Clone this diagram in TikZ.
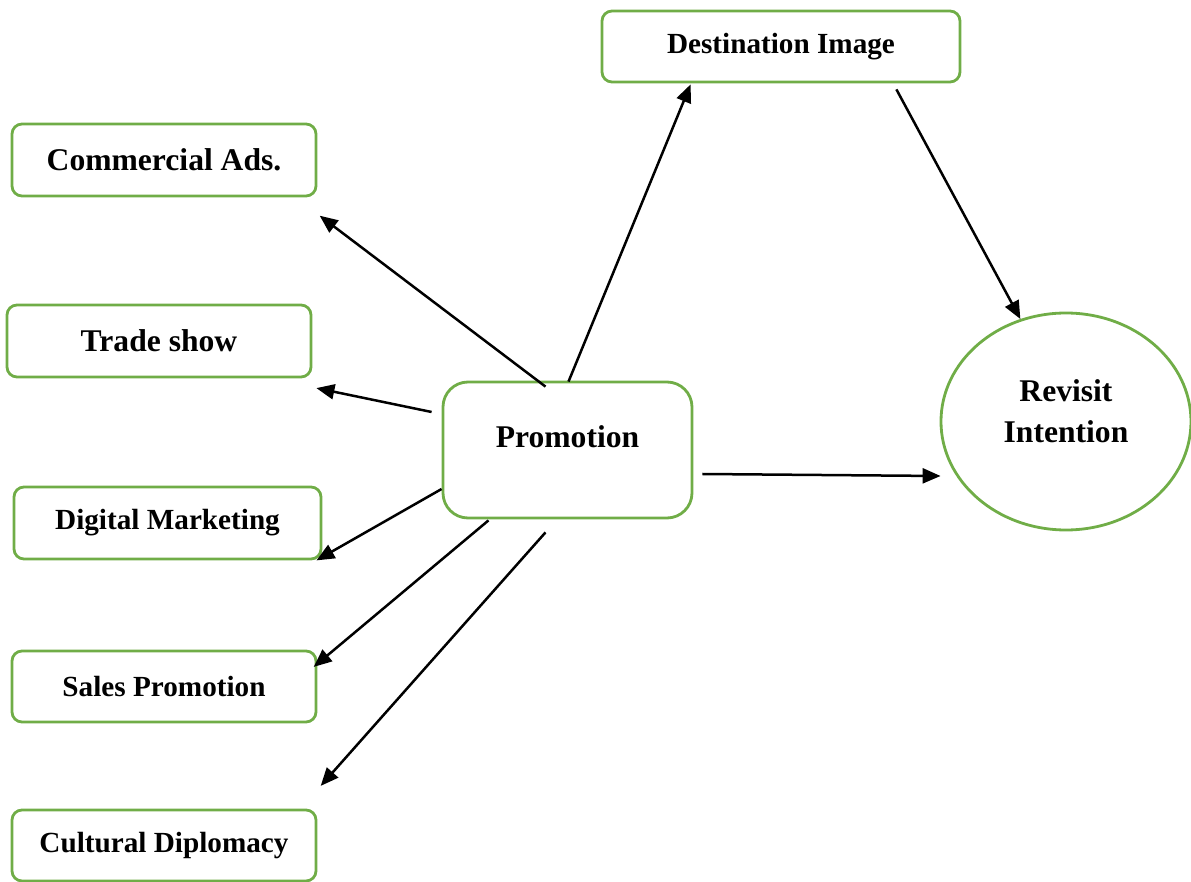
\documentclass[tikz,border=0pt]{standalone}
\usepackage{fontspec}
\setmainfont{Liberation Serif}
\usetikzlibrary{calc,arrows.meta,shapes.geometric}
\definecolor{boxgreen}{RGB}{112,173,71}
\newcommand\fontbig{\fontsize{15.8}{20.5}\selectfont\bfseries}
\newcommand\fontsmall{\fontsize{14.6}{17}\selectfont\bfseries}

\tikzset{
  box/.style={draw=boxgreen, line width=1.4pt, rounded corners=5pt,
    minimum width=152pt, minimum height=36pt, inner sep=0pt, font=\fontsmall},
  bigbox/.style={box, rounded corners=12.5pt, minimum width=124.5pt,
    minimum height=68pt, font=\fontbig},
  oval/.style={ellipse, draw=boxgreen, line width=1.4pt, minimum width=125pt,
    minimum height=108.5pt, inner sep=0pt, align=center, font=\fontbig},
  edge/.style={-{Triangle[length=9pt,width=7.5pt]}, line width=1.25pt}
}

\begin{document}
\begin{tikzpicture}[x=0.5pt,y=-0.5pt]
  \useasboundingbox (0,0) rectangle (1191,882);
%%
  % Node: prom
  \node[bigbox, text depth=13pt] (prom) at (567.5,450) {Promotion};
  % Node: dest
  \node[box, minimum width=179pt, minimum height=35.5pt] (dest) at (781,46.5) {Destination Image};
  % Node: revisit
  \node[oval, text depth=10pt] (revisit) at (1066,421.5) {Revisit\\Intention};
  % Node: comm
  \node[box, font=\fontbig] (comm) at (164,160) {Commercial Ads.};
  % Node: trade
  \node[box, font=\fontbig] (trade) at (159,341) {Trade show};
  % Node: digital
  \node[box, minimum width=153.5pt] (digital) at (167.5,523) {Digital Marketing};
  % Node: sales
  \node[box, minimum height=35.5pt] (sales) at (164,686.5) {Sales Promotion};
  % Node: cultural
  \node[box, minimum height=35.5pt] (cultural) at (164,845.5) {Cultural Diplomacy};
%%
  % Edge: prom -> comm
  \draw[edge] ($(prom.north)+(-22,6)$) -- ($(comm.south east)+(2.3,18.3)$);
  % Edge: prom -> trade
  \draw[edge] ($(prom.west)+(-10,-38)$) -- ($(trade.south east)+(4,9.7)$);
  % Edge: prom -> digital
  \draw[edge] ($(prom.west)+(0,39)$) -- ($(digital.south east)+(-6,0)$);
  % Edge: prom -> sales
  \draw[edge] ($(prom.south)+(-79,1)$) -- ($(sales.north east)+(-3.7,17.3)$);
  % Edge: prom -> cultural
  \draw[edge] ($(prom.south)+(-22,13)$) -- ($(cultural.north east)+(3.3,-22.7)$);
  % Edge: prom -> dest
  \draw[edge] ($(prom.north)+(1,1)$) -- ($(dest.south west)+(90,1)$);
  % Edge: dest -> revisit
  \draw[edge] ($(dest.south east)+(-65,6)$) -- (revisit.114);
  % Edge: prom -> revisit
  \draw[edge] ($(prom.east)+(9,24)$) -- ($(revisit.west)+(1,54.5)$);
%
\end{tikzpicture}
\end{document}
